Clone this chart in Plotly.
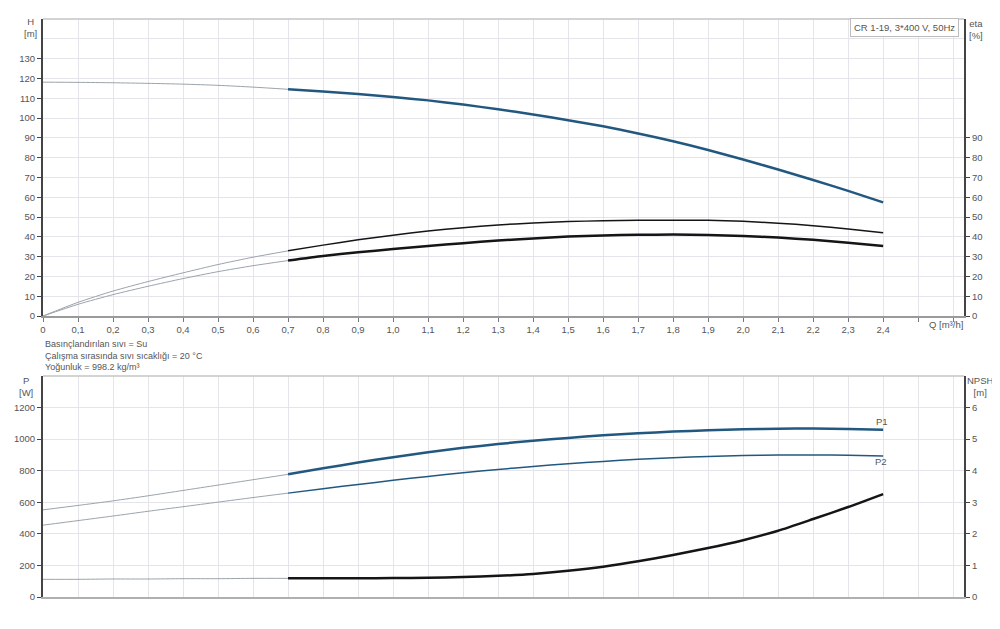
import plotly.graph_objects as go

# ---------------- data ----------------
q_lo = [0.0, 0.1, 0.2, 0.3, 0.4, 0.5, 0.6, 0.7]
q_hi = [0.7, 0.8, 0.9, 1.0, 1.1, 1.2, 1.3, 1.4, 1.5, 1.6, 1.7, 1.8, 1.9, 2.0, 2.1, 2.2, 2.3, 2.4]

H_lo = [118.1, 118.0, 117.8, 117.5, 117.1, 116.5, 115.6, 114.5]
H_hi = [114.5, 113.4, 112.1, 110.6, 108.9, 106.8, 104.4, 101.8, 98.9, 95.8, 92.2, 88.3, 83.8, 79.0, 74.0, 68.7, 63.2, 57.4]

eta1_lo = [0, 6.9, 12.6, 17.4, 21.8, 26.0, 29.7, 32.9]
eta1_hi = [32.9, 35.8, 38.5, 40.8, 42.9, 44.6, 46.0, 47.0, 47.7, 48.1, 48.4, 48.4, 48.3, 47.8, 46.9, 45.6, 43.9, 42.0]
eta2_lo = [0, 5.9, 10.8, 15.0, 18.9, 22.4, 25.4, 28.0]
eta2_hi = [28.0, 30.3, 32.2, 33.8, 35.4, 36.8, 38.1, 39.2, 40.1, 40.7, 41.0, 41.1, 40.9, 40.4, 39.6, 38.5, 37.0, 35.3]

P1_lo = [552, 580, 609, 641, 675, 709, 743, 777]
P1_hi = [777, 815, 852, 886, 917, 945, 969, 990, 1008, 1024, 1037, 1048, 1056, 1062, 1066, 1067, 1065, 1060]
P2_lo = [455, 484, 513, 543, 572, 601, 630, 658]
P2_hi = [658, 686, 713, 739, 764, 787, 808, 827, 844, 859, 872, 882, 890, 896, 899, 900, 898, 894]

NPSH_lo = [0.56, 0.56, 0.57, 0.57, 0.58, 0.58, 0.59, 0.59]
NPSH_hi = [0.59, 0.59, 0.595, 0.60, 0.61, 0.63, 0.67, 0.73, 0.83, 0.96, 1.13, 1.33, 1.55, 1.80, 2.10, 2.47, 2.85, 3.26]

q_ticks = [round(0.1 * i, 1) for i in range(27)]
q_ticktext = [("0" if v == 0 else f"{v:.1f}".replace(".", ",")) if v <= 2.4 else "" for v in q_ticks]
H_ticks = list(range(0, 140, 10))
eta_ticks = list(range(0, 100, 10))
P_ticks = list(range(0, 1400, 200))
NPSH_ticks = list(range(0, 7))

# ---------------- style ----------------
FONT = "Liberation Sans, Arial, sans-serif"
TXT = "#555555"
GRID = "#e4e4ea"
BLUE = "#22587f"
THIN = "#9aa4ab"
BLACK = "#151515"

W, H = 1000, 629
OFF = 8  # page body margin


def px(x):
    return (x - OFF) / W


def py(y):
    return 1 - (y - OFF) / H


fig = go.Figure()


def add(x, y, xa, ya, color, width):
    fig.add_trace(go.Scatter(x=x, y=y, xaxis=xa, yaxis=ya, mode="lines",
                             line=dict(color=color, width=width, shape="spline", smoothing=0.6),
                             hoverinfo="skip", showlegend=False))


# top chart
add(q_lo, H_lo, "x", "y", THIN, 1)
add(q_hi, H_hi, "x", "y", BLUE, 2.5)
add(q_lo, eta1_lo, "x", "y2", THIN, 1)
add(q_hi, eta1_hi, "x", "y2", BLACK, 1.5)
add(q_lo, eta2_lo, "x", "y2", THIN, 1)
add(q_hi, eta2_hi, "x", "y2", BLACK, 2.5)
# bottom chart
add(q_lo, P1_lo, "x2", "y3", THIN, 1)
add(q_hi, P1_hi, "x2", "y3", BLUE, 2.5)
add(q_lo, P2_lo, "x2", "y3", THIN, 1)
add(q_hi, P2_hi, "x2", "y3", BLUE, 1.5)
add(q_lo, NPSH_lo, "x2", "y4", THIN, 1)
add(q_hi, NPSH_hi, "x2", "y4", BLACK, 2.5)

XD = [px(43), px(964)]
TOP_D = [py(316), py(19)]
BOT_D = [py(597), py(376)]
tickfont = dict(family=FONT, size=9.5, color=TXT)

fig.update_layout(
    width=W, height=H,
    margin=dict(l=0, r=0, t=0, b=0, autoexpand=False),
    paper_bgcolor="white", plot_bgcolor="white",
    font=dict(family=FONT, color=TXT),
    xaxis=dict(domain=XD, anchor="y", range=[0, 2.631], tickmode="array",
               tickvals=q_ticks, ticktext=q_ticktext, tickfont=tickfont,
               showgrid=True, gridcolor=GRID, gridwidth=1, zeroline=False,
               showline=True, linecolor="#9a9a9a", linewidth=2, automargin=False,
               ticks="outside", ticklen=4, tickcolor="#777"),
    yaxis=dict(domain=TOP_D, anchor="x", range=[0, 150], tickmode="array",
               tickvals=H_ticks, tickfont=tickfont, automargin=False,
               showgrid=True, gridcolor=GRID, zeroline=False,
               minor=dict(dtick=10, tick0=0, showgrid=True, gridcolor=GRID, ticks=""),
               showline=True, linecolor="#444", linewidth=2,
               ticks="outside", ticklen=4, tickcolor="#444"),
    yaxis2=dict(overlaying="y", side="right", anchor="x", range=[0, 150],
                tickmode="array", tickvals=eta_ticks, tickfont=tickfont,
                showgrid=False, zeroline=False, automargin=False,
                showline=True, linecolor="#444", linewidth=2,
                ticks="outside", ticklen=4, tickcolor="#444"),
    xaxis2=dict(domain=XD, anchor="y3", range=[0, 2.631], tickmode="array",
                tickvals=q_ticks, showticklabels=False, automargin=False,
                showgrid=True, gridcolor=GRID, zeroline=False,
                showline=True, linecolor="#b0b0b0", linewidth=2, ticks=""),
    yaxis3=dict(domain=BOT_D, anchor="x2", range=[0, 1400], tickmode="array",
                tickvals=P_ticks, tickfont=tickfont, automargin=False,
                showgrid=True, gridcolor=GRID, zeroline=False,
                minor=dict(dtick=200, tick0=0, showgrid=True, gridcolor=GRID, ticks=""),
                showline=True, linecolor="#444", linewidth=2,
                ticks="outside", ticklen=4, tickcolor="#444"),
    yaxis4=dict(overlaying="y3", side="right", anchor="x2", range=[0, 7],
                tickmode="array", tickvals=NPSH_ticks, tickfont=tickfont,
                showgrid=False, zeroline=False, automargin=False,
                showline=True, linecolor="#444", linewidth=2,
                ticks="outside", ticklen=4, tickcolor="#444"),
)

# top frame lines
for yd in (TOP_D[1], BOT_D[1]):
    fig.add_shape(type="line", xref="paper", yref="paper", x0=XD[0], x1=XD[1],
                  y0=yd, y1=yd, line=dict(color="#c4c4c4", width=1.5))
# small dash top right
fig.add_shape(type="line", xref="paper", yref="paper", x0=px(957), x1=px(967),
              y0=py(4), y1=py(4), line=dict(color="#222", width=2))


def ann(text, x, y, xanchor="left", yanchor="middle", size=9.5, align="left", **kw):
    fig.add_annotation(text=text, xref="paper", yref="paper", x=px(x), y=py(y),
                       xanchor=xanchor, yanchor=yanchor, showarrow=False, align=align,
                       font=dict(family=FONT, size=size, color=TXT), **kw)


ann("H<br>[m]", 30, 28, xanchor="center", align="center")
ann("eta<br>[%]", 976, 30, xanchor="center", align="center")
ann("P<br>[W]", 26, 386, xanchor="center", align="center")
ann("NPSH<br>[m]", 980, 386, xanchor="center", align="center")
ann("Q [m³/h]", 927, 325, xanchor="left")
ann("Basınçlandırılan sıvı = Su<br>Çalışma sırasında sıvı sıcaklığı = 20 °C<br>Yoğunluk = 998.2 kg/m³",
    43, 355, size=9)
ann("P1", 874, 422, size=9.5)
ann("P2", 873, 461, size=9.5)
ann("CR 1-19, 3*400 V, 50Hz", 904, 28, xanchor="center", bordercolor="#bdbdbd",
    borderwidth=1, borderpad=3, bgcolor="white")

fig.write_html("out.html")
